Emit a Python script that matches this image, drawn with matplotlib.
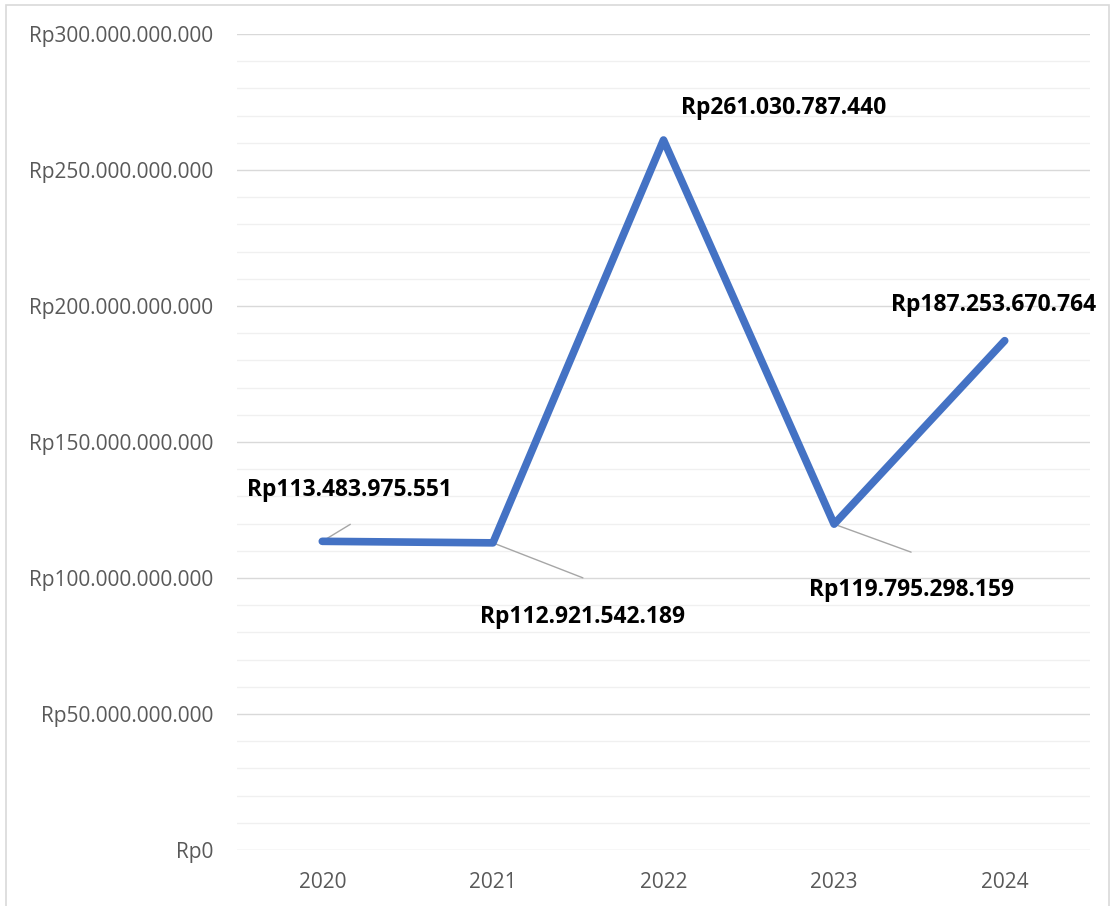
import numpy as np
import matplotlib.pyplot as plt
from matplotlib.ticker import MultipleLocator, FuncFormatter
from matplotlib.patches import Rectangle

plt.rcParams.update({'font.family': ['Open Sans', 'DejaVu Sans']})

years = ['2020', '2021', '2022', '2023', '2024']
values = [113483975551, 112921542189, 261030787440, 119795298159, 187253670764]

# label offsets from point (pixels) and optional leader line end
label_off = [(27, 51), (90, -74), (120, 32), (77, -66), (-11, 36)]
leader_off = [(28, 17), (90, -35), None, (77, -28), None]


def rupiah(v, pos=None):
    return 'Rp' + f'{int(round(v)):,}'.replace(',', '.')


fig = plt.figure(figsize=(11.19, 9.06), dpi=100)
ax = fig.add_axes([237 / 1119, 1 - 850 / 906, (1090 - 237) / 1119, (850 - 34) / 906])

# outer chart border
fig.patches.append(Rectangle((6 / 1119, -0.01), (1109 - 6) / 1119, 1 - 5 / 906 + 0.01,
                             transform=fig.transFigure, fill=False,
                             edgecolor='#d9d9d9', linewidth=1.2))

x = np.arange(len(years))
ax.plot(x, values, color='#4472C4', linewidth=5.5, solid_capstyle='round',
        solid_joinstyle='round', zorder=3)

ax.set_xlim(-0.5, len(years) - 0.5)
ax.set_ylim(0, 300e9)
ax.yaxis.set_major_locator(MultipleLocator(50e9))
ax.yaxis.set_minor_locator(MultipleLocator(10e9))
ax.yaxis.set_major_formatter(FuncFormatter(rupiah))
ax.set_xticks(x)
ax.set_xticklabels(years)
ax.grid(which='major', axis='y', color='#d9d9d9', linewidth=1.0, zorder=0)
ax.grid(which='minor', axis='y', color='#f0f0f0', linewidth=1.0, zorder=0)
ax.set_axisbelow(True)
for s in ax.spines.values():
    s.set_visible(False)
ax.tick_params(which='both', length=0, colors='#595959', labelsize=15)
ax.tick_params(axis='y', pad=17)
ax.tick_params(axis='x', pad=16)

for i, v in enumerate(values):
    if leader_off[i] is not None:
        ax.annotate('', xy=(i, v), xytext=leader_off[i], textcoords='offset pixels',
                    arrowprops=dict(arrowstyle='-', color='#a6a6a6', lw=1.0,
                                    shrinkA=0, shrinkB=0), zorder=2)
    ax.annotate(rupiah(v), xy=(i, v), xytext=label_off[i], textcoords='offset pixels',
                ha='center', va='center', fontsize=16.5, fontweight='bold',
                color='black', zorder=4)

fig.savefig('out.png', dpi=100)
